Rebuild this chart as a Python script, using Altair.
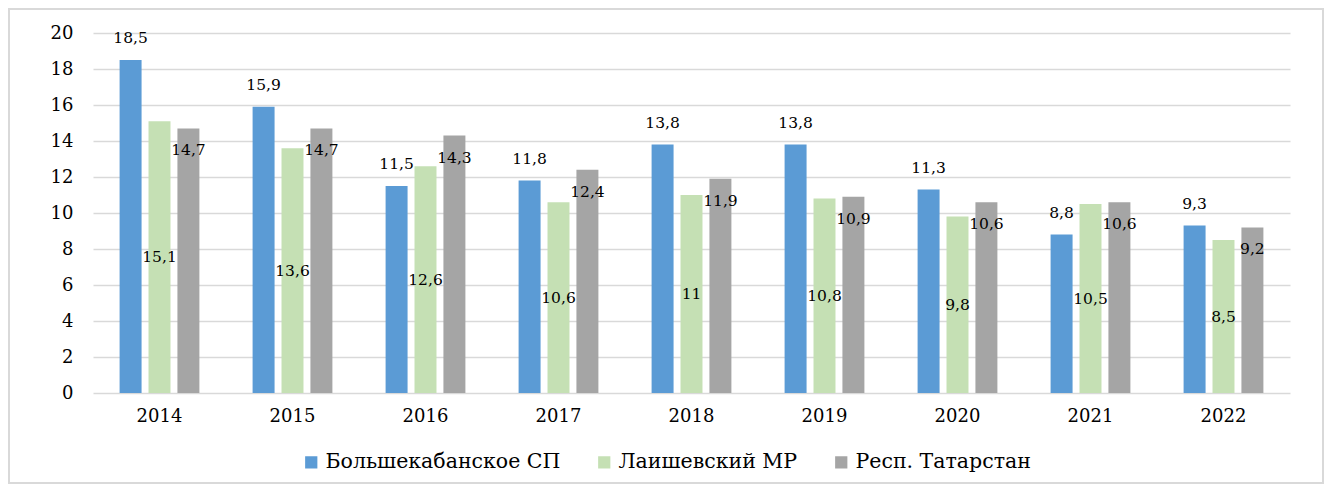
import altair as alt
import pandas as pd

years = ["2014", "2015", "2016", "2017", "2018", "2019", "2020", "2021", "2022"]
series = ["Большекабанское СП", "Лаишевский МР", "Респ. Татарстан"]
bolshe = [18.5, 15.9, 11.5, 11.8, 13.8, 13.8, 11.3, 8.8, 9.3]
laish = [15.1, 13.6, 12.6, 10.6, 11.0, 10.8, 9.8, 10.5, 8.5]
rt = [14.7, 14.7, 14.3, 12.4, 11.9, 10.9, 10.6, 10.6, 9.2]
colors = ["#5B9BD5", "#C5E0B4", "#A5A5A5"]
y_ticks = [0, 2, 4, 6, 8, 10, 12, 14, 16, 18, 20]

rows = []
for s, vals in zip(series, [bolshe, laish, rt]):
    for y, v in zip(years, vals):
        rows.append({"year": y, "series": s, "value": v,
                     "label": f"{v:g}".replace(".", ",")})
df = pd.DataFrame(rows)

FONT = "DejaVu Serif"
W, H = 1197, 360

base = alt.Chart(df).encode(
    x=alt.X("year:N", title=None, sort=years,
            scale=alt.Scale(paddingInner=0.4, paddingOuter=0.2),
            axis=alt.Axis(labelAngle=0, labelFont=FONT, labelFontSize=18,
                          labelColor="#000000", labelPadding=14,
                          ticks=False, domain=False)),
    xOffset=alt.XOffset("series:N", sort=series,
                        scale=alt.Scale(paddingInner=0.24, paddingOuter=0)),
)

yscale = alt.Scale(domain=[0, 20], nice=False)
yaxis = alt.Axis(values=y_ticks, tickCount=11, labelFont=FONT, labelFontSize=18,
                 labelColor="#000000", labelPadding=20, labelOverlap=False,
                 ticks=False, domain=False, grid=True,
                 gridColor="#D9D9D9", gridWidth=1.5)

bars = base.mark_bar().encode(
    y=alt.Y("value:Q", title=None, scale=yscale, axis=yaxis),
    color=alt.Color("series:N",
                    scale=alt.Scale(domain=series, range=colors),
                    legend=alt.Legend(title=None, orient="none",
                                      legendX=208, legendY=419,
                                      direction="horizontal",
                                      symbolType="square", symbolSize=150,
                                      symbolStrokeWidth=0,
                                      labelFont=FONT, labelFontSize=20.5,
                                      labelColor="#000000", labelLimit=500,
                                      labelOffset=4, columnPadding=33)),
)

txt_style = dict(font=FONT, fontSize=15.5, color="#000000", baseline="middle")

blue_txt = base.transform_filter(alt.datum.series == series[0]).mark_text(
    dy=-22, **txt_style).encode(
    y=alt.Y("value:Q", title=None, scale=yscale, axis=yaxis), text="label:N")

green_txt = base.transform_filter(alt.datum.series == series[1]).transform_calculate(
    half="datum.value / 2").mark_text(**txt_style).encode(
    y=alt.Y("half:Q", title=None, scale=yscale, axis=yaxis), text="label:N")

gray_txt = base.transform_filter(alt.datum.series == series[2]).mark_text(
    dy=22, **txt_style).encode(
    y=alt.Y("value:Q", title=None, scale=yscale, axis=yaxis), text="label:N")

border = alt.Chart(pd.DataFrame({"b": [0]})).mark_rect(
    filled=False, stroke="#D9D9D9", strokeWidth=2).encode(
    x=alt.value(-84), x2=alt.value(W + 33), y=alt.value(-24), y2=alt.value(H + 90))

chart = alt.layer(border, bars, blue_txt, green_txt, gray_txt).properties(
    width=W, height=H,
    padding={"left": 85, "top": 25, "right": 35, "bottom": 92},
    autosize=alt.AutoSizeParams(type="none"),
).configure_view(stroke=None)

chart.save("out.html", embed_options={"renderer": "svg", "actions": False})
